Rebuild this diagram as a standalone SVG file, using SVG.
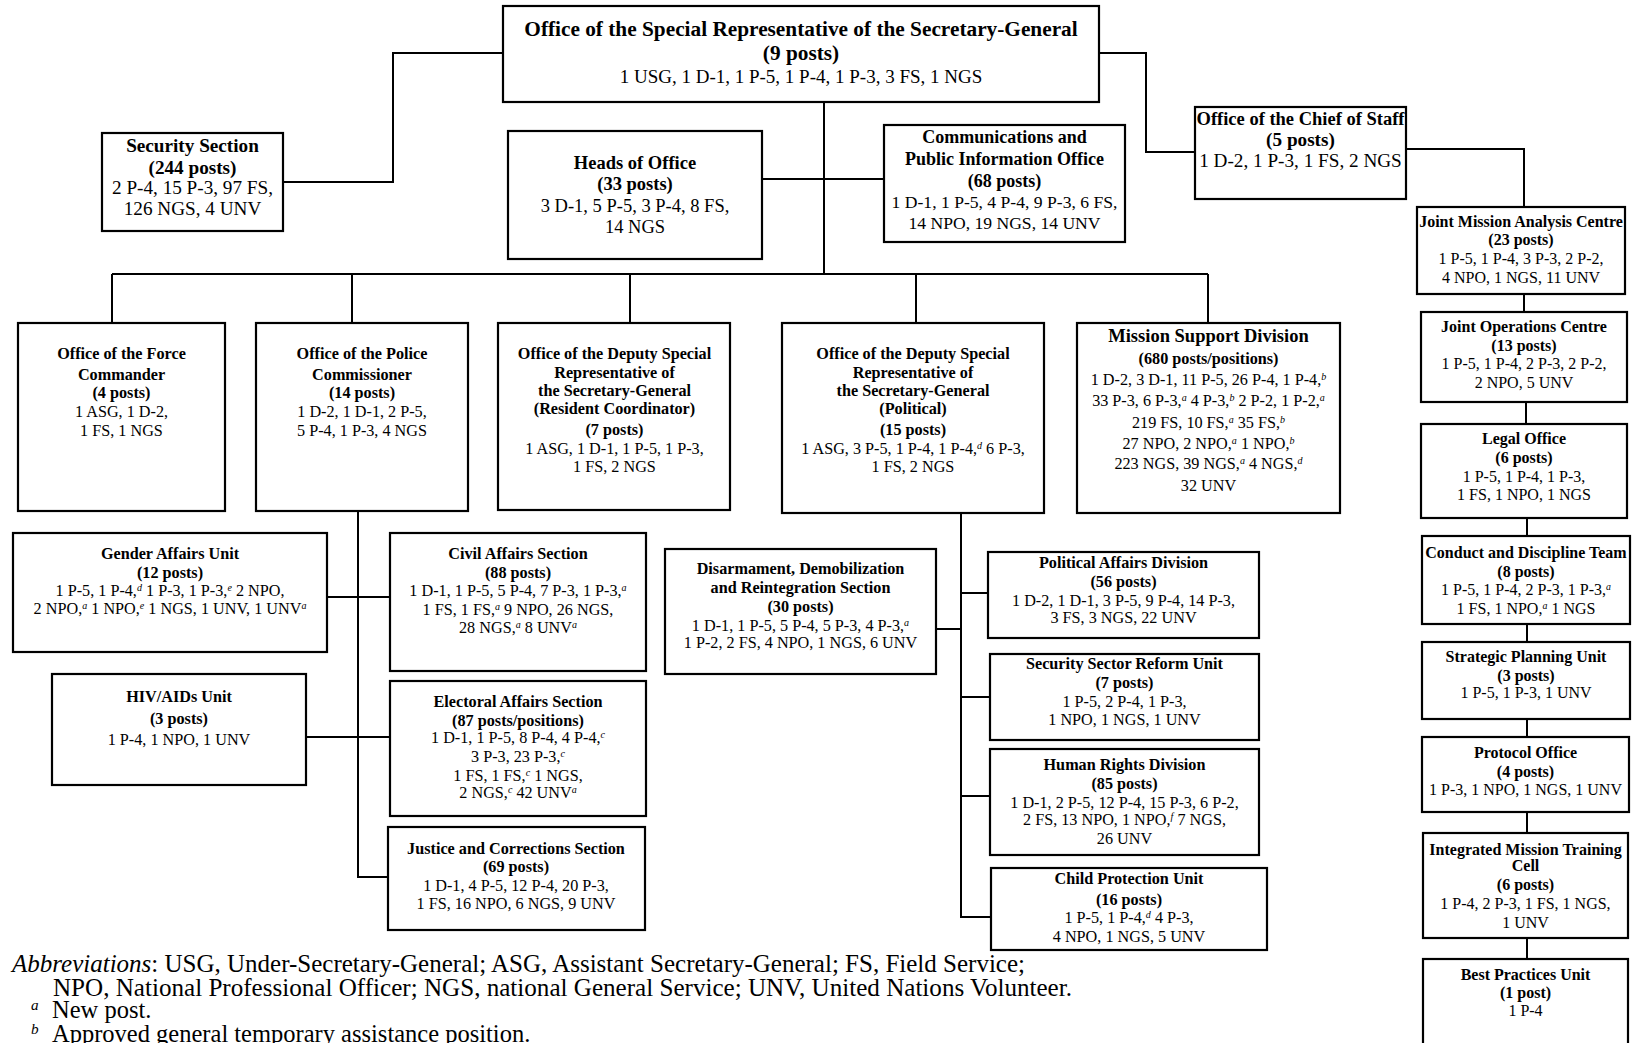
<svg xmlns="http://www.w3.org/2000/svg" width="1633" height="1043" viewBox="0 0 1633 1043">
<style>
.box{fill:#fff;stroke:#000;stroke-width:2.2}
.conn{fill:none;stroke:#000;stroke-width:2}
text{font-family:"Liberation Serif","Times New Roman",serif;text-anchor:middle;fill:#000}
.b{font-weight:bold}
.f21{font-size:21.3px}
.f19{font-size:19.2px}
.f18{font-size:18.5px}
.fc{font-size:18px}
.fcn{font-size:17.6px}
.f16{font-size:16.2px}
.f15{font-size:16px}
.foot{font-size:24.5px;text-anchor:start}
.sup{font-size:62%;font-style:italic;baseline-shift:super}
.i{font-style:italic}
</style>
<rect width="1633" height="1043" fill="#fff"/>
<g id="connectors">
<path class="conn" d="M503,53 H393 V182 H283"/>
<path class="conn" d="M1099,53 H1146 V152 H1195"/>
<path class="conn" d="M1406,149 H1524 V207"/>
<path class="conn" d="M1524,294 V312 M1526,402 V424 M1527,518 V536 M1527,624 V642 M1527,719 V737 M1527,812 V833 M1527,938 V959"/>
<path class="conn" d="M824,102 V274"/>
<path class="conn" d="M762,179 H884"/>
<path class="conn" d="M112,274 H1208"/>
<path class="conn" d="M112,274 V323 M352,274 V323 M630,274 V323 M916,274 V323 M1208,274 V323"/>
<path class="conn" d="M358,511 V877 H388"/>
<path class="conn" d="M327,597 H390"/>
<path class="conn" d="M306,737 H390"/>
<path class="conn" d="M961,513 V917 H991"/>
<path class="conn" d="M936,629 H961 M961,593 H988 M961,697 H990 M961,796 H990"/>
</g>
<g id="srsg">
<rect class="box" x="503" y="6" width="596" height="96"/>
<text class="b f21" x="801" y="36">Office of the Special Representative of the Secretary-General</text>
<text class="b f21" x="801" y="60">(9 posts)</text>
<text x="801" y="82.5" style="font-size:19px">1 USG, 1 D-1, 1 P-5, 1 P-4, 1 P-3, 3 FS, 1 NGS</text>
</g>
<g id="security">
<rect class="box" x="102" y="133" width="181" height="98"/>
<text class="b f19" x="192.5" y="151.5">Security Section</text>
<text class="b f19" x="192.5" y="173.5">(244 posts)</text>
<text class="f19" x="192.5" y="194">2 P-4, 15 P-3, 97 FS,</text>
<text class="f19" x="192.5" y="214.5">126 NGS, 4 UNV</text>
</g>
<g id="heads">
<rect class="box" x="508" y="131" width="254" height="128"/>
<text class="b f18" x="635" y="169">Heads of Office</text>
<text class="b f18" x="635" y="189.5">(33 posts)</text>
<text class="f18" x="635" y="211.5">3 D-1, 5 P-5, 3 P-4, 8 FS,</text>
<text class="f18" x="635" y="232.5">14 NGS</text>
</g>
<g id="comms">
<rect class="box" x="884" y="125" width="241" height="117"/>
<text class="b fc" x="1004.5" y="143">Communications and</text>
<text class="b fc" x="1004.5" y="164.5">Public Information Office</text>
<text class="b fc" x="1004.5" y="186.5">(68 posts)</text>
<text class="fcn" x="1004.5" y="207.5">1 D-1, 1 P-5, 4 P-4, 9 P-3, 6 FS,</text>
<text class="fcn" x="1004.5" y="228.5">14 NPO, 19 NGS, 14 UNV</text>
</g>
<g id="chief-of-staff">
<rect class="box" x="1195" y="107" width="211" height="92"/>
<text class="b f19" x="1300.5" y="124.5" textLength="208" lengthAdjust="spacingAndGlyphs">Office of the Chief of Staff</text>
<text class="b f19" x="1300.5" y="146">(5 posts)</text>
<text class="f19" x="1300.5" y="166.5">1 D-2, 1 P-3, 1 FS, 2 NGS</text>
</g>
<g id="jmac">
<rect class="box" x="1417" y="207" width="208" height="87"/>
<text class="b f15" x="1521" y="226.5">Joint Mission Analysis Centre</text>
<text class="b f15" x="1521" y="245">(23 posts)</text>
<text class="f15" x="1521" y="263.5">1 P-5, 1 P-4, 3 P-3, 2 P-2,</text>
<text class="f15" x="1521" y="282.5">4 NPO, 1 NGS, 11 UNV</text>
</g>
<g id="joc">
<rect class="box" x="1421" y="312" width="206" height="90"/>
<text class="b f15" x="1524" y="331.5">Joint Operations Centre</text>
<text class="b f15" x="1524" y="350.5">(13 posts)</text>
<text class="f15" x="1524" y="369">1 P-5, 1 P-4, 2 P-3, 2 P-2,</text>
<text class="f15" x="1524" y="387.5">2 NPO, 5 UNV</text>
</g>
<g id="legal">
<rect class="box" x="1421" y="424" width="206" height="94"/>
<text class="b f15" x="1524" y="444">Legal Office</text>
<text class="b f15" x="1524" y="462.5">(6 posts)</text>
<text class="f15" x="1524" y="481.5">1 P-5, 1 P-4, 1 P-3,</text>
<text class="f15" x="1524" y="500">1 FS, 1 NPO, 1 NGS</text>
</g>
<g id="conduct">
<rect class="box" x="1422" y="536" width="208" height="88"/>
<text class="b f15" x="1526" y="557.5">Conduct and Discipline Team</text>
<text class="b f15" x="1526" y="576.5">(8 posts)</text>
<text class="f15" x="1526" y="595">1 P-5, 1 P-4, 2 P-3, 1 P-3,<tspan class="sup">a</tspan></text>
<text class="f15" x="1526" y="613.5">1 FS, 1 NPO,<tspan class="sup">a</tspan> 1 NGS</text>
</g>
<g id="strategic">
<rect class="box" x="1422" y="642" width="208" height="77"/>
<text class="b f15" x="1526" y="661.5">Strategic Planning Unit</text>
<text class="b f15" x="1526" y="680.5">(3 posts)</text>
<text class="f15" x="1526" y="698">1 P-5, 1 P-3, 1 UNV</text>
</g>
<g id="protocol">
<rect class="box" x="1422" y="737" width="207" height="75"/>
<text class="b f15" x="1525.5" y="757.5">Protocol Office</text>
<text class="b f15" x="1525.5" y="776.5">(4 posts)</text>
<text class="f15" x="1525.5" y="795">1 P-3, 1 NPO, 1 NGS, 1 UNV</text>
</g>
<g id="training">
<rect class="box" x="1423" y="833" width="205" height="105"/>
<text class="b f15" x="1525.5" y="854.5">Integrated Mission Training</text>
<text class="b f15" x="1525.5" y="871">Cell</text>
<text class="b f15" x="1525.5" y="889.5">(6 posts)</text>
<text class="f15" x="1525.5" y="908.5">1 P-4, 2 P-3, 1 FS, 1 NGS,</text>
<text class="f15" x="1525.5" y="927.5">1 UNV</text>
</g>
<g id="best-practices">
<rect class="box" x="1423" y="959" width="205" height="100"/>
<text class="b f15" x="1525.5" y="979.5">Best Practices Unit</text>
<text class="b f15" x="1525.5" y="998">(1 post)</text>
<text class="f15" x="1525.5" y="1015.5">1 P-4</text>
</g>
<g id="force">
<rect class="box" x="18" y="323" width="207" height="188"/>
<text class="b f16" x="121.5" y="358.5">Office of the Force</text>
<text class="b f16" x="121.5" y="379.5">Commander</text>
<text class="b f16" x="121.5" y="398">(4 posts)</text>
<text class="f16" x="121.5" y="417">1 ASG, 1 D-2,</text>
<text class="f16" x="121.5" y="435.5">1 FS, 1 NGS</text>
</g>
<g id="police">
<rect class="box" x="256" y="323" width="212" height="188"/>
<text class="b f16" x="362" y="358.5">Office of the Police</text>
<text class="b f16" x="362" y="379.5">Commissioner</text>
<text class="b f16" x="362" y="398">(14 posts)</text>
<text class="f16" x="362" y="417">1 D-2, 1 D-1, 2 P-5,</text>
<text class="f16" x="362" y="435.5">5 P-4, 1 P-3, 4 NGS</text>
</g>
<g id="dsrsg-rc">
<rect class="box" x="498" y="323" width="232" height="187"/>
<text class="b f16" x="614.5" y="358.5">Office of the Deputy Special</text>
<text class="b f16" x="614.5" y="377.5">Representative of</text>
<text class="b f16" x="614.5" y="396">the Secretary-General</text>
<text class="b f16" x="614.5" y="413.5">(Resident Coordinator)</text>
<text class="b f16" x="614.5" y="434.5">(7 posts)</text>
<text class="f16" x="614.5" y="453.5">1 ASG, 1 D-1, 1 P-5, 1 P-3,</text>
<text class="f16" x="614.5" y="472">1 FS, 2 NGS</text>
</g>
<g id="dsrsg-political">
<rect class="box" x="782" y="323" width="262" height="190"/>
<text class="b f16" x="913" y="358.5">Office of the Deputy Special</text>
<text class="b f16" x="913" y="377.5">Representative of</text>
<text class="b f16" x="913" y="396">the Secretary-General</text>
<text class="b f16" x="913" y="413.5">(Political)</text>
<text class="b f16" x="913" y="434.5">(15 posts)</text>
<text class="f16" x="913" y="453.5">1 ASG, 3 P-5, 1 P-4, 1 P-4,<tspan class="sup">d</tspan> 6 P-3,</text>
<text class="f16" x="913" y="472">1 FS, 2 NGS</text>
</g>
<g id="mission-support">
<rect class="box" x="1077" y="323" width="263" height="190"/>
<text class="b f18" x="1208.5" y="341.5">Mission Support Division</text>
<text class="b f16" x="1208.5" y="363.5">(680 posts/positions)</text>
<text class="f16" x="1208.5" y="384.5">1 D-2, 3 D-1, 11 P-5, 26 P-4, 1 P-4,<tspan class="sup">b</tspan></text>
<text class="f16" x="1208.5" y="405.5">33 P-3, 6 P-3,<tspan class="sup">a</tspan> 4 P-3,<tspan class="sup">b</tspan> 2 P-2, 1 P-2,<tspan class="sup">a</tspan></text>
<text class="f16" x="1208.5" y="427.5">219 FS, 10 FS,<tspan class="sup">a</tspan> 35 FS,<tspan class="sup">b</tspan></text>
<text class="f16" x="1208.5" y="448.5">27 NPO, 2 NPO,<tspan class="sup">a</tspan> 1 NPO,<tspan class="sup">b</tspan></text>
<text class="f16" x="1208.5" y="469">223 NGS, 39 NGS,<tspan class="sup">a</tspan> 4 NGS,<tspan class="sup">d</tspan></text>
<text class="f16" x="1208.5" y="490.5">32 UNV</text>
</g>
<g id="gender">
<rect class="box" x="13" y="533" width="314" height="119"/>
<text class="b f16" x="170" y="558.5">Gender Affairs Unit</text>
<text class="b f16" x="170" y="577.5">(12 posts)</text>
<text class="f16" x="170" y="596">1 P-5, 1 P-4,<tspan class="sup">d</tspan> 1 P-3, 1 P-3,<tspan class="sup">e</tspan> 2 NPO,</text>
<text class="f16" x="170" y="613.5">2 NPO,<tspan class="sup">a</tspan> 1 NPO,<tspan class="sup">e</tspan> 1 NGS, 1 UNV, 1 UNV<tspan class="sup">a</tspan></text>
</g>
<g id="hiv">
<rect class="box" x="52" y="674" width="254" height="111"/>
<text class="b f16" x="179" y="701.5">HIV/AIDs Unit</text>
<text class="b f16" x="179" y="724">(3 posts)</text>
<text class="f16" x="179" y="745">1 P-4, 1 NPO, 1 UNV</text>
</g>
<g id="civil">
<rect class="box" x="390" y="533" width="256" height="138"/>
<text class="b f16" x="518" y="558.5">Civil Affairs Section</text>
<text class="b f16" x="518" y="577.5">(88 posts)</text>
<text class="f16" x="518" y="596">1 D-1, 1 P-5, 5 P-4, 7 P-3, 1 P-3,<tspan class="sup">a</tspan></text>
<text class="f16" x="518" y="614.5">1 FS, 1 FS,<tspan class="sup">a</tspan> 9 NPO, 26 NGS,</text>
<text class="f16" x="518" y="633">28 NGS,<tspan class="sup">a</tspan> 8 UNV<tspan class="sup">a</tspan></text>
</g>
<g id="electoral">
<rect class="box" x="390" y="681" width="256" height="135"/>
<text class="b f16" x="518" y="706.5">Electoral Affairs Section</text>
<text class="b f16" x="518" y="725.5">(87 posts/positions)</text>
<text class="f16" x="518" y="743">1 D-1, 1 P-5, 8 P-4, 4 P-4,<tspan class="sup">c</tspan></text>
<text class="f16" x="518" y="761.5">3 P-3, 23 P-3,<tspan class="sup">c</tspan></text>
<text class="f16" x="518" y="780.5">1 FS, 1 FS,<tspan class="sup">c</tspan> 1 NGS,</text>
<text class="f16" x="518" y="798">2 NGS,<tspan class="sup">c</tspan> 42 UNV<tspan class="sup">a</tspan></text>
</g>
<g id="justice">
<rect class="box" x="388" y="827" width="257" height="103"/>
<text class="b f16" x="516" y="853.5">Justice and Corrections Section</text>
<text class="b f16" x="516" y="872">(69 posts)</text>
<text class="f16" x="516" y="890.5">1 D-1, 4 P-5, 12 P-4, 20 P-3,</text>
<text class="f16" x="516" y="908.5">1 FS, 16 NPO, 6 NGS, 9 UNV</text>
</g>
<g id="ddr">
<rect class="box" x="665" y="549" width="271" height="125"/>
<text class="b f16" x="800.5" y="574">Disarmament, Demobilization</text>
<text class="b f16" x="800.5" y="592.5">and Reintegration Section</text>
<text class="b f16" x="800.5" y="611.5">(30 posts)</text>
<text class="f16" x="800.5" y="630.5">1 D-1, 1 P-5, 5 P-4, 5 P-3, 4 P-3,<tspan class="sup">a</tspan></text>
<text class="f16" x="800.5" y="648">1 P-2, 2 FS, 4 NPO, 1 NGS, 6 UNV</text>
</g>
<g id="political-affairs">
<rect class="box" x="988" y="552" width="271" height="86"/>
<text class="b f16" x="1123.5" y="567.5">Political Affairs Division</text>
<text class="b f16" x="1123.5" y="586.5">(56 posts)</text>
<text class="f16" x="1123.5" y="605.5">1 D-2, 1 D-1, 3 P-5, 9 P-4, 14 P-3,</text>
<text class="f16" x="1123.5" y="623">3 FS, 3 NGS, 22 UNV</text>
</g>
<g id="ssr">
<rect class="box" x="990" y="654" width="269" height="86"/>
<text class="b f16" x="1124.5" y="669">Security Sector Reform Unit</text>
<text class="b f16" x="1124.5" y="687.5">(7 posts)</text>
<text class="f16" x="1124.5" y="706.5">1 P-5, 2 P-4, 1 P-3,</text>
<text class="f16" x="1124.5" y="725">1 NPO, 1 NGS, 1 UNV</text>
</g>
<g id="human-rights">
<rect class="box" x="990" y="749" width="269" height="106"/>
<text class="b f16" x="1124.5" y="770">Human Rights Division</text>
<text class="b f16" x="1124.5" y="788.5">(85 posts)</text>
<text class="f16" x="1124.5" y="807.5">1 D-1, 2 P-5, 12 P-4, 15 P-3, 6 P-2,</text>
<text class="f16" x="1124.5" y="825">2 FS, 13 NPO, 1 NPO,<tspan class="sup">f</tspan> 7 NGS,</text>
<text class="f16" x="1124.5" y="843.5">26 UNV</text>
</g>
<g id="child-protection">
<rect class="box" x="991" y="868" width="276" height="82"/>
<text class="b f16" x="1129" y="883.5">Child Protection Unit</text>
<text class="b f16" x="1129" y="904.5">(16 posts)</text>
<text class="f16" x="1129" y="923">1 P-5, 1 P-4,<tspan class="sup">d</tspan> 4 P-3,</text>
<text class="f16" x="1129" y="941.5">4 NPO, 1 NGS, 5 UNV</text>
</g>
<g id="footnotes">
<text class="foot" x="12" y="972" textLength="1013" lengthAdjust="spacingAndGlyphs"><tspan class="i">Abbreviations</tspan>: USG, Under-Secretary-General; ASG, Assistant Secretary-General; FS, Field Service;</text>
<text class="foot" x="53" y="995.5" textLength="1019" lengthAdjust="spacingAndGlyphs">NPO, National Professional Officer; NGS, national General Service; UNV, United Nations Volunteer.</text>
<text class="foot" x="31" y="1018"><tspan class="sup">a</tspan><tspan x="52">New post.</tspan></text>
<text class="foot" x="31" y="1041.5"><tspan class="sup">b</tspan><tspan x="52">Approved general temporary assistance position.</tspan></text>
</g>
</svg>
